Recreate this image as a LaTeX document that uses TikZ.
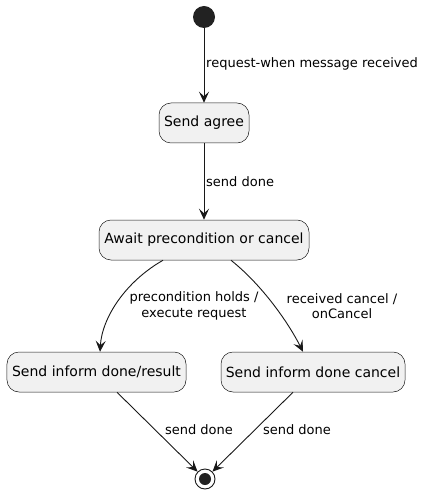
\documentclass[tikz,border=0pt]{standalone}
\usepackage{fontspec}
\setmainfont{DejaVu Sans}
\usetikzlibrary{arrows.meta}
\definecolor{boxfill}{HTML}{F1F1F1}
\definecolor{lineclr}{HTML}{181818}
\definecolor{dotclr}{HTML}{222222}
\begin{document}
\begin{tikzpicture}[x=1bp,y=-1bp,
  state/.style={draw=lineclr,line width=0.5bp,fill=boxfill,rounded corners=12bp,minimum height=40bp,inner sep=0pt,font=\fontsize{14bp}{16bp}\selectfont,text=black},
  lbl/.style={font=\fontsize{13bp}{15.5bp}\selectfont,text=black,inner sep=0pt,align=center},
  conn/.style={draw=lineclr,line width=0.9bp,-{Stealth[length=11bp,width=10bp,inset=4.5bp]}}]
\useasboundingbox (0,0) rectangle (424,496);
\node[circle,fill=dotclr,minimum size=22bp,inner sep=0pt] (start) at (204,17) {};
\node[state,minimum width=90bp] (agree) at (204,123) {Send agree};
\node[state,minimum width=210bp] (await) at (204,240) {Await precondition or cancel};
\node[state,minimum width=179bp] (res) at (96.5,372) {Send inform done/result};
\node[state,minimum width=184bp] (canc) at (313,372) {Send inform done cancel};
\node[circle,draw=lineclr,line width=0.9bp,fill=white,minimum size=20bp,inner sep=0pt] (end) at (205,479) {};
\node[circle,fill=dotclr,minimum size=12bp,inner sep=0pt] (enddot) at (end) {};
\draw[conn] (start) -- (agree);
\draw[conn] (agree) -- (await);
\draw[conn] ([xshift=-41bp]await.south) .. controls (125,282) and (102,318) .. ([xshift=3.5bp]res.north);
\draw[conn] ([xshift=27bp]await.south) .. controls (262,285) and (288,322) .. ([xshift=-10bp]canc.north);
\draw[conn] ([xshift=20.5bp]res.south) -- (end);
\draw[conn] ([xshift=-20bp]canc.south) -- (end);
\node[lbl,anchor=west] (l1) at (206,64) {request-when message received};
\node[lbl,anchor=west] (l2) at (206,182) {send done};
\node[lbl] (l3) at (194,306) {precondition holds /\\execute request};
\node[lbl] (l4) at (342,306) {received cancel /\\onCancel};
\node[lbl] (l5) at (199,430) {send done};
\node[lbl] (l6) at (297,430) {send done};
\end{tikzpicture}
\end{document}
